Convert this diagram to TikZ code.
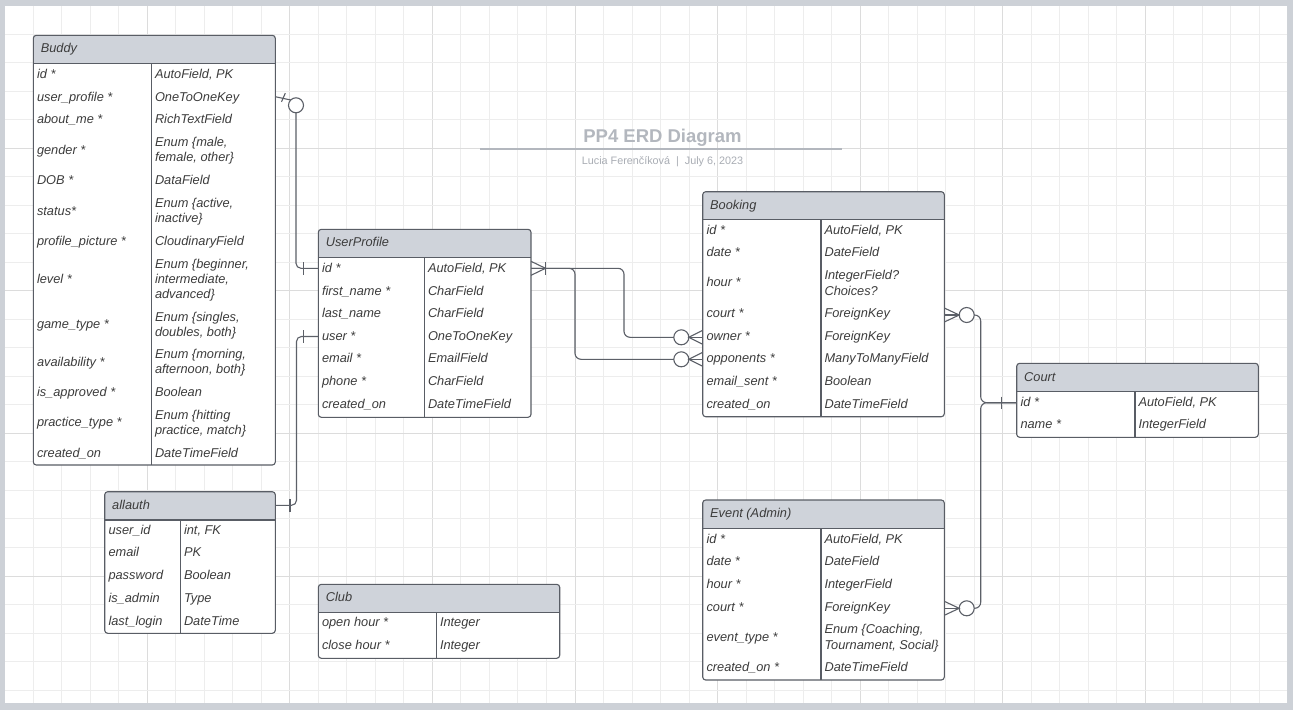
\documentclass[tikz,border=0pt]{standalone}
\usepackage{fontspec}
\setmainfont{Liberation Sans}
\usetikzlibrary{calc}
\definecolor{outercol}{HTML}{CDD1D7}
\definecolor{gridminor}{HTML}{EDEDED}
\definecolor{gridmajor}{HTML}{DCDCDC}
\definecolor{hdrfill}{HTML}{CFD3DA}
\definecolor{tblline}{HTML}{595D65}
\definecolor{txt}{HTML}{3C3C3C}
\definecolor{titlegray}{HTML}{B3B7BE}
\definecolor{subgray}{HTML}{A9ADB4}
\definecolor{connc}{HTML}{5C6068}
\tikzset{
  cell/.style={anchor=base west, inner sep=0pt, outer sep=0pt, yshift=-4.5pt, text=txt, font=\itshape\fontsize{12.8}{15}\selectfont},
  tblnode/.style={inner sep=0pt, outer sep=0pt, rectangle},
  border/.style={draw=tblline, line width=1.1pt},
  conn/.style={draw=connc, line width=1.1pt},
  endcircle/.style={circle, draw=connc, line width=1.1pt, fill=white, minimum size=15pt, inner sep=0pt, outer sep=0pt},
}
\newcommand\erdtable[8]{%
  \node[tblnode, fill=white, rounded corners=3pt, minimum width={(#4-#2)*1pt}, minimum height={(#5-#3)*1pt}] (#1) at ({(#2+#4)/2},{(#3+#5)/2}) {};
  \begin{scope}
    \clip[rounded corners=3pt] (#2,#3) rectangle (#4,#5);
    \fill[hdrfill] (#2,#3) rectangle (#4,#6);
  \end{scope}
  \draw[border] (#2,#6) -- (#4,#6);
  \draw[border] (#7,#6) -- (#7,#5);
  \draw[border, rounded corners=3pt] (#2,#3) rectangle (#4,#5);
  \node[cell] (#1-title) at ({#2+7.5},{(#3+#6)/2-1}) {#8};
}
\newcommand\tc[4]{\node[cell] (#1) at (#2,#3) {#4};}
\begin{document}
\begin{tikzpicture}[x=1pt,y=-1pt]
\useasboundingbox (0,0) rectangle (1293,710);
\fill[outercol] (0,0) rectangle (1293,710);
\fill[white] (5,6) rectangle (1287,703);
% grid
\begin{scope}
  \clip (5,6) rectangle (1287,703);
  \foreach \i in {0,...,45}{
    \pgfmathsetmacro\xx{4.8+28.51*\i}
    \pgfmathtruncatemacro\mm{mod(\i,5)}
    \ifnum\mm=0\relax
      \draw[gridmajor, line width=1pt] (\xx,6) -- (\xx,703);
    \else
      \draw[gridminor, line width=1pt] (\xx,6) -- (\xx,703);
    \fi
  }
  \foreach \i in {0,...,24}{
    \pgfmathsetmacro\yy{5.8+28.51*\i}
    \pgfmathtruncatemacro\mm{mod(\i,5)}
    \ifnum\mm=0\relax
      \draw[gridmajor, line width=1pt] (5,\yy) -- (1287,\yy);
    \else
      \draw[gridminor, line width=1pt] (5,\yy) -- (1287,\yy);
    \fi
  }
\end{scope}
% title
\node[anchor=base, inner sep=0pt, text=titlegray, font=\bfseries\fontsize{18.5}{20}\selectfont] (title) at (662.5,142.3) {PP4 ERD Diagram};
\draw[titlegray, line width=1.3pt] (480,149) -- (841.7,149);
\node[anchor=base, inner sep=0pt, text=subgray, font=\fontsize{10.8}{12}\selectfont] (subtitle) at (662.5,164.3) {Lucia Ferenčíková \ | \ July 6, 2023};

% ---------- Buddy
\erdtable{buddy}{33.3}{35.3}{275.3}{465}{63.5}{151.7}{Buddy}
\tc{bd1l}{37}{73.5}{id *}\tc{bd1r}{155}{73.5}{AutoField, PK}
\tc{bd2l}{37}{96.5}{user\_profile *}\tc{bd2r}{155}{96.5}{OneToOneKey}
\tc{bd3l}{37}{119}{about\_me *}\tc{bd3r}{155}{119}{RichTextField}
\tc{bd4l}{37}{150}{gender *}\tc{bd4r}{155}{142}{Enum \{male,}\tc{bd4s}{155}{157}{female, other\}}
\tc{bd5l}{37}{180}{DOB *}\tc{bd5r}{155}{180}{DataField}
\tc{bd6l}{37}{210.7}{status*}\tc{bd6r}{155}{203}{Enum \{active,}\tc{bd6s}{155}{218}{inactive\}}
\tc{bd7l}{37}{240.7}{profile\_picture *}\tc{bd7r}{155}{240.7}{CloudinaryField}
\tc{bd8l}{37}{278.5}{level *}\tc{bd8r}{155}{263.5}{Enum \{beginner,}\tc{bd8s}{155}{278.5}{intermediate,}\tc{bd8t}{155}{293.5}{advanced\}}
\tc{bd9l}{37}{324}{game\_type *}\tc{bd9r}{155}{316.7}{Enum \{singles,}\tc{bd9s}{155}{331.7}{doubles, both\}}
\tc{bd10l}{37}{362}{availability *}\tc{bd10r}{155}{354.3}{Enum \{morning,}\tc{bd10s}{155}{369.3}{afternoon, both\}}
\tc{bd11l}{37}{392}{is\_approved *}\tc{bd11r}{155}{392}{Boolean}
\tc{bd12l}{37}{422.3}{practice\_type *}\tc{bd12r}{155}{414.7}{Enum \{hitting}\tc{bd12s}{155}{429.7}{practice, match\}}
\tc{bd13l}{37}{452.7}{created\_on}\tc{bd13r}{155}{452.7}{DateTimeField}

% ---------- UserProfile
\erdtable{userprofile}{318.3}{229.3}{531}{417.3}{257.3}{424.3}{UserProfile}
\tc{up1l}{322}{268.3}{id *}\tc{up1r}{428}{268.3}{AutoField, PK}
\tc{up2l}{322}{290.5}{first\_name *}\tc{up2r}{428}{290.5}{CharField}
\tc{up3l}{322}{313.3}{last\_name}\tc{up3r}{428}{313.3}{CharField}
\tc{up4l}{322}{336}{user *}\tc{up4r}{428}{336}{OneToOneKey}
\tc{up5l}{322}{358.3}{email *}\tc{up5r}{428}{358.3}{EmailField}
\tc{up6l}{322}{381.3}{phone *}\tc{up6r}{428}{381.3}{CharField}
\tc{up7l}{322}{404}{created\_on}\tc{up7r}{428}{404}{DateTimeField}

% ---------- Booking
\erdtable{booking}{702.7}{191.7}{944.3}{416.7}{219.7}{821}{Booking}
\tc{bk1l}{706.5}{229.7}{id *}\tc{bk1r}{824.5}{229.7}{AutoField, PK}
\tc{bk2l}{706.5}{252.3}{date *}\tc{bk2r}{824.5}{252.3}{DateField}
\tc{bk3l}{706.5}{282.3}{hour *}\tc{bk3r}{824.5}{275}{IntegerField?}\tc{bk3s}{824.5}{290.5}{Choices?}
\tc{bk4l}{706.5}{312.7}{court *}\tc{bk4r}{824.5}{312.7}{ForeignKey}
\tc{bk5l}{706.5}{335.7}{owner *}\tc{bk5r}{824.5}{335.7}{ForeignKey}
\tc{bk6l}{706.5}{358.3}{opponents *}\tc{bk6r}{824.5}{358.3}{ManyToManyField}
\tc{bk7l}{706.5}{381.3}{email\_sent *}\tc{bk7r}{824.5}{381.3}{Boolean}
\tc{bk8l}{706.5}{404.3}{created\_on}\tc{bk8r}{824.5}{404.3}{DateTimeField}

% ---------- Event
\erdtable{event}{702.7}{500}{944.3}{680}{528.3}{821}{Event (Admin)}
\tc{ev1l}{706.5}{538.7}{id *}\tc{ev1r}{824.5}{538.7}{AutoField, PK}
\tc{ev2l}{706.5}{561.3}{date *}\tc{ev2r}{824.5}{561.3}{DateField}
\tc{ev3l}{706.5}{584}{hour *}\tc{ev3r}{824.5}{584}{IntegerField}
\tc{ev4l}{706.5}{606.7}{court *}\tc{ev4r}{824.5}{606.7}{ForeignKey}
\tc{ev5l}{706.5}{636.7}{event\_type *}\tc{ev5r}{824.5}{629.3}{Enum \{Coaching,}\tc{ev5s}{824.5}{644.5}{Tournament, Social\}}
\tc{ev6l}{706.5}{666.7}{created\_on *}\tc{ev6r}{824.5}{666.7}{DateTimeField}

% ---------- Court
\erdtable{court}{1016.7}{363.3}{1258.3}{437.3}{391.7}{1135}{Court}
\tc{ct1l}{1020.5}{401.7}{id *}\tc{ct1r}{1138.5}{401.7}{AutoField, PK}
\tc{ct2l}{1020.5}{424.3}{name *}\tc{ct2r}{1138.5}{424.3}{IntegerField}

% ---------- Club
\erdtable{club}{318.3}{584.3}{559.7}{658.3}{612.3}{436.3}{Club}
\tc{cl1l}{322}{622.3}{open hour *}\tc{cl1r}{440}{622.3}{Integer}
\tc{cl2l}{322}{645.3}{close hour *}\tc{cl2r}{440}{645.3}{Integer}

% ---------- allauth
\erdtable{allauth}{104.7}{491.7}{275.3}{633.3}{520}{180.3}{allauth}
\tc{aa1l}{108.5}{529.7}{user\_id}\tc{aa1r}{184}{529.7}{int, FK}
\tc{aa2l}{108.5}{552.3}{email}\tc{aa2r}{184}{552.3}{PK}
\tc{aa3l}{108.5}{575}{password}\tc{aa3r}{184}{575}{Boolean}
\tc{aa4l}{108.5}{597.7}{is\_admin}\tc{aa4r}{184}{597.7}{Type}
\tc{aa5l}{108.5}{620.7}{last\_login}\tc{aa5r}{184}{620.7}{DateTime}

% ---------- connector anchors
\coordinate (bd-up) at (275.3,96.7);
\coordinate (up-idl) at (318.3,268.3);
\coordinate (up-idr) at (531,268.3);
\coordinate (up-user) at (318.3,336.5);
\coordinate (aa-h) at (275.3,505.3);
\coordinate (bk-owner) at (702.7,337.3);
\coordinate (bk-opp) at (702.7,359.3);
\coordinate (bk-court) at (944.3,315);
\coordinate (ev-court) at (944.3,608.3);
\coordinate (ct-id) at (1016.7,402.7);

\node[endcircle] (o1) at (296,105.3) {};
\node[endcircle] (o3) at (681.3,337.3) {};
\node[endcircle] (o4) at (681.3,359.3) {};
\node[endcircle] (o5) at (966.7,315) {};
\node[endcircle] (o6) at (966.7,608.3) {};

% Buddy.user_profile -> UserProfile.id
\draw[conn] (bd-up) -- (o1.135);
\draw[conn] (281.5,101.8) -- (285.3,93.2);
\draw[conn, rounded corners=5pt] (o1.south) -- (296,268.3) -- (up-idl);
\draw[conn] (303.3,262) -- (303.3,275);

% allauth -> UserProfile.user
\draw[conn, rounded corners=5pt] (aa-h) -- (296.5,505.3) -- (296.5,336.5) -- (up-user);
\draw[conn] (290,499) -- (290,512);
\draw[conn] (303.3,330.3) -- (303.3,342.8);

% UserProfile.id -> Booking.owner / opponents
\draw[conn] (531,261.3) -- (545.5,268.3) -- (531,275.3);
\draw[conn] (545.5,261.8) -- (545.5,274.8);
\draw[conn, rounded corners=6pt] (up-idr) -- (624,268.3) -- (624,337.3) -- (o3);
\draw[conn, rounded corners=6pt] (up-idr) -- (575,268.3) -- (575,359.3) -- (o4);
\draw[conn] (o3) -- (bk-owner);
\draw[conn] (702.7,330.3) -- (o3.east) -- (702.7,344.3);
\draw[conn] (o4) -- (bk-opp);
\draw[conn] (702.7,352.3) -- (o4.east) -- (702.7,366.3);

% Booking.court / Event.court -> Court.id
\draw[conn] (bk-court) -- (o5);
\draw[conn] (944.3,308) -- (o5.west) -- (944.3,322);
\draw[conn] (ev-court) -- (o6);
\draw[conn] (944.3,601.3) -- (o6.west) -- (944.3,615.3);
\draw[conn, rounded corners=6pt] (o5.east) -- (980.7,315) -- (980.7,402.7) -- (ct-id);
\draw[conn, rounded corners=6pt] (o6.east) -- (980.7,608.3) -- (980.7,402.7) -- (ct-id);
\draw[conn] (1001.7,396.5) -- (1001.7,409);
\end{tikzpicture}
\end{document}
